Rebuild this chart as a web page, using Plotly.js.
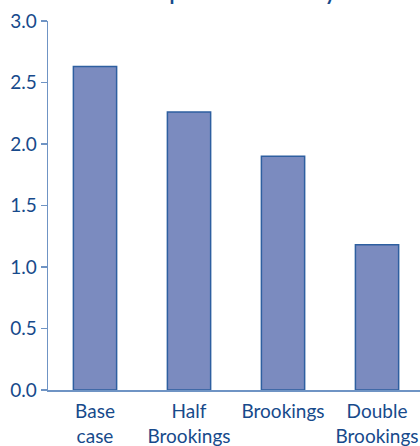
<!DOCTYPE html>
<html>
<head>
<meta charset="utf-8">
<script src="https://cdn.plot.ly/plotly-3.0.1.min.js"></script>
<style>html,body{margin:0;padding:0;background:#fff;}#chart{width:420px;height:446px;}</style>
</head>
<body>
<div id="chart"></div>
<script>
const categories = ["Base<br>case", "Half<br>Brookings", "Brookings", "Double<br>Brookings"];
const values = [2.63, 2.26, 1.90, 1.18];
const tickVals = [0, 0.5, 1.0, 1.5, 2.0, 2.5, 3.0];
const tickText = ["0.0", "0.5", "1.0", "1.5", "2.0", "2.5", "3.0"];
const titleText = "Impact on availability";

const textColor = "#174a8b";
const axisColor = "#6f94c4";

Plotly.newPlot("chart", [{
  type: "bar",
  x: categories,
  y: values,
  marker: {color: "#7b8bbf", line: {color: "#2e5fa0", width: 1.5}},
  hoverinfo: "skip"
}], {
  width: 420, height: 446,
  margin: {l: 48, r: 0, t: 21, b: 56},
  paper_bgcolor: "#fff", plot_bgcolor: "#fff",
  bargap: 0.54,
  showlegend: false,
  font: {family: "Lato, 'Open Sans', sans-serif", size: 18, color: textColor},
  xaxis: {
    range: [-0.5, 3.457],
    showline: true, linecolor: axisColor, linewidth: 1.5,
    ticks: "", showgrid: false, zeroline: false,
    tickfont: {size: 19, color: textColor},
    ticklabelstandoff: 4,
    fixedrange: true
  },
  yaxis: {
    range: [0, 3.0],
    tickvals: tickVals, ticktext: tickText,
    showline: true, linecolor: axisColor, linewidth: 1.5,
    ticks: "outside", ticklen: 6, tickcolor: axisColor, tickwidth: 1.5,
    showgrid: false, zeroline: false,
    tickfont: {size: 19, color: textColor},
    fixedrange: true
  },
  annotations: [{
    text: "<b>" + titleText + "</b>",
    xref: "paper", yref: "paper",
    x: 0.52, y: 1, yanchor: "bottom", xanchor: "center",
    yshift: 15,
    showarrow: false,
    font: {size: 20, color: textColor}
  }]
}, {displayModeBar: false, staticPlot: true});
</script>
</body>
</html>
